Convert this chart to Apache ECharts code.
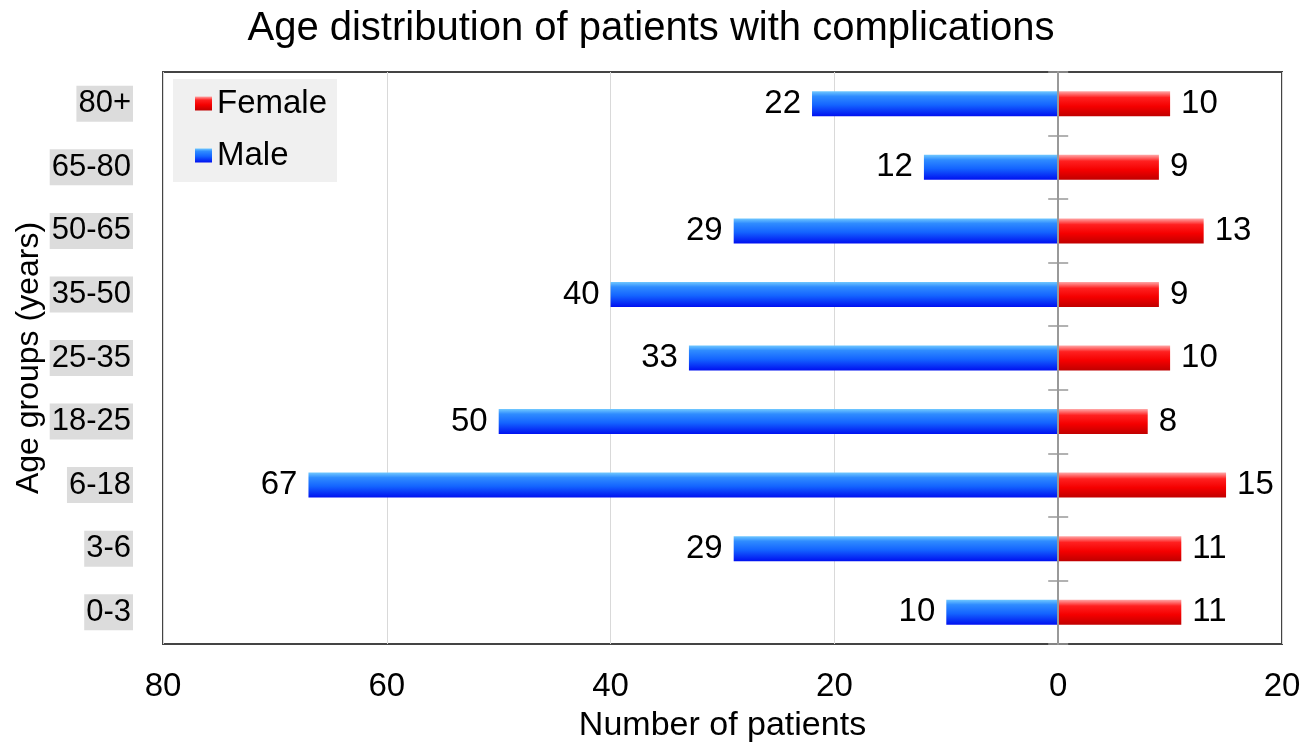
<!DOCTYPE html>
<html>
<head>
<meta charset="utf-8">
<title>Age distribution of patients with complications</title>
<script src="https://cdn.jsdelivr.net/npm/echarts@6/dist/echarts.min.js"></script>
<style>
  html, body { margin: 0; padding: 0; background: #fff; }
  #chart { width: 1302px; height: 744px; }
</style>
</head>
<body>
<div id="chart"></div>
<script>
// Age groups, bottom to top on the category axis
const ageGroups = ['0-3', '3-6', '6-18', '18-25', '25-35', '35-50', '50-65', '65-80', '80+'];
// Patient counts per age group
const maleCounts = [10, 29, 67, 50, 33, 40, 29, 12, 22];
const femaleCounts = [11, 11, 15, 8, 10, 9, 13, 9, 10];
// Value axis ticks (males plotted to the left of zero)
const xMin = -80, xMax = 20, xStep = 20;

const FONT = "'Liberation Sans', Arial, sans-serif";

const maleFill = new echarts.graphic.LinearGradient(0, 0, 0, 1, [
  { offset: 0, color: '#70c8ff' },
  { offset: 0.2, color: '#2f8cff' },
  { offset: 0.55, color: '#1464ff' },
  { offset: 1, color: '#0010f0' }
]);
const femaleFill = new echarts.graphic.LinearGradient(0, 0, 0, 1, [
  { offset: 0, color: '#ffa8a8' },
  { offset: 0.25, color: '#ff2020' },
  { offset: 0.6, color: '#f50000' },
  { offset: 1, color: '#c00000' }
]);

const chart = echarts.init(document.getElementById('chart'), null, { renderer: 'canvas' });

const valueLabel = (pos) => ({
  show: true,
  position: pos,
  distance: 11,
  fontFamily: FONT,
  fontSize: 33,
  color: '#000',
  formatter: (p) => Math.abs(p.value)
});

chart.setOption({
  animation: false,
  textStyle: { fontFamily: FONT },
  title: {
    text: 'Age distribution of patients with complications',
    left: 'center',
    top: 9,
    padding: 0,
    textStyle: { fontFamily: FONT, fontSize: 40, fontWeight: 'normal', color: '#000' }
  },
  legend: {
    data: ['Female', 'Male'],
    orient: 'vertical',
    left: 173,
    top: 79,
    backgroundColor: '#f0f0f0',
    padding: [8, 10, 10, 22],
    itemGap: 19,
    itemWidth: 17,
    itemHeight: 14,
    itemTextGap: 8,
    icon: 'rect',
    textStyle: { fontFamily: FONT, fontSize: 33, color: '#000' }
  },
  grid: {
    left: 163,
    right: 20,
    top: 72,
    bottom: 100,
    outerBoundsMode: 'none',
    show: true,
    borderColor: '#444',
    borderWidth: 2,
    backgroundColor: 'transparent'
  },
  xAxis: [
    {
      type: 'value',
      min: xMin,
      max: xMax,
      interval: xStep,
      axisLine: { show: false },
      axisTick: { show: false },
      splitLine: { show: true, lineStyle: { color: '#d9d9d9', width: 1 } },
      axisLabel: {
        margin: 26,
        fontFamily: FONT,
        fontSize: 33,
        color: '#000',
        formatter: (v) => Math.abs(v)
      },
      name: 'Number of patients',
      nameLocation: 'middle',
      nameGap: 65,
      nameMoveOverlap: false,
      nameTextStyle: { fontFamily: FONT, fontSize: 34, color: '#000' }
    },
    {
      // helper axis so the second zero-line axis can sit on x = 0
      type: 'value',
      min: xMin,
      max: xMax,
      show: false
    }
  ],
  yAxis: [
    {
      type: 'category',
      data: ageGroups,
      position: 'left',
      axisLine: { show: false, onZero: false },
      axisTick: { show: false },
      splitLine: { show: false },
      axisLabel: {
        margin: 30,
        fontFamily: FONT,
        fontSize: 31,
        color: '#000',
        backgroundColor: '#dcdcdc',
        padding: [4, 2, 1, 2]
      },
      name: 'Age groups (years)',
      nameLocation: 'middle',
      nameRotate: 90,
      nameGap: 118,
      nameMoveOverlap: false,
      nameTextStyle: { fontFamily: FONT, fontSize: 32, color: '#000' }
    },
    {
      // zero line with category boundary ticks pointing left
      type: 'category',
      data: ageGroups,
      position: 'left',
      z: 10,
      axisLine: { show: true, onZero: true, lineStyle: { color: '#999', width: 2 } },
      axisTick: { show: true, inside: false, length: 10, interval: 0, lineStyle: { color: '#999', width: 1.5 } },
      axisLabel: { show: false },
      splitLine: { show: false }
    },
    {
      // boundary ticks pointing right from the zero line
      type: 'category',
      data: ageGroups,
      position: 'right',
      z: 10,
      axisLine: { show: false, onZero: true, onZeroAxisIndex: 1 },
      axisTick: { show: true, inside: false, length: 10, interval: 0, lineStyle: { color: '#999', width: 1.5 } },
      axisLabel: { show: false },
      splitLine: { show: false }
    }
  ],
  series: [
    {
      name: 'Male',
      type: 'bar',
      stack: 'patients',
      barWidth: 25,
      data: maleCounts.map((v) => -v),
      itemStyle: { color: maleFill },
      label: valueLabel('left')
    },
    {
      name: 'Female',
      type: 'bar',
      stack: 'patients',
      barWidth: 25,
      data: femaleCounts,
      itemStyle: { color: femaleFill },
      label: valueLabel('right')
    }
  ]
});
</script>
</body>
</html>
